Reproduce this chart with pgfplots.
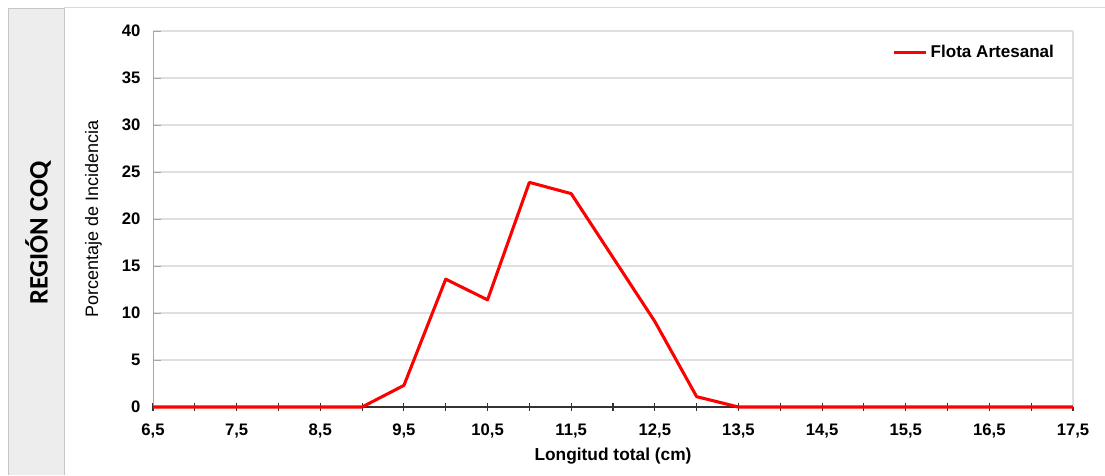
\documentclass[border=0pt]{standalone}
\usepackage{fontspec}
\setmainfont{Liberation Sans}
\newfontfamily\calib{Carlito}
\usepackage{pgfplots}
\pgfplotsset{compat=1.18}

\pgfplotstableread{
x y
6.5 0
7.0 0
7.5 0
8.0 0
8.5 0
9.0 0
9.5 2.3
10.0 13.6
10.5 11.4
11.0 23.9
11.5 22.7
12.0 15.9
12.5 9.1
13.0 1.1
13.5 0
14.0 0
14.5 0
15.0 0
15.5 0
16.0 0
16.5 0
17.0 0
17.5 0
}\flota

\begin{document}
\begin{tikzpicture}[x=0.75pt,y=0.75pt]
\useasboundingbox (0,0) rectangle (1105,475);
% left panel
\fill[gray!14] (8,0) rectangle (64,467);
\draw[gray!45] (8,0) -- (8,467) -- (64,467) -- (64,0);
\draw[gray!30] (64,468) -- (1105,468);
\node[rotate=90,font=\calib\bfseries\fontsize{20}{24}\selectfont] at (38,242) {REGIÓN COQ};
\begin{axis}[
    at={(114.75pt,51pt)}, anchor=south west,
    scale only axis, width=690pt, height=282pt,
    xmin=6.5, xmax=17.5, ymin=0, ymax=40,
    axis x line*=bottom, axis y line*=left,
    x axis line style={black!80, line width=0.8pt},
    y axis line style={gray!70},
    xtick={6.5,7.5,...,17.5},
    minor xtick={7,8,...,17},
    ytick={0,5,...,40},
    ymajorgrids, major grid style={gray!25, line width=0.8pt},
    xtick style={black!80, line width=0.8pt},
    minor x tick style={black!80, line width=0.8pt},
    major tick length=6pt, minor tick length=6pt,
    xtick align=center,
    ytick style={gray!70, line width=0.6pt},
    /pgf/number format/assume math mode=true,
    ticklabel style={font=\bfseries\fontsize{12.5}{14}\selectfont},
    xticklabel style={yshift=-6pt, /pgf/number format/fixed, /pgf/number format/fixed zerofill, /pgf/number format/precision=1, /pgf/number format/use comma},
    yticklabel style={xshift=-6pt},
    xlabel={\fontsize{13}{15}\selectfont\bfseries Longitud total (cm)},
    ylabel={\fontsize{13.5}{15}\selectfont Porcentaje de Incidencia},
    xlabel style={yshift=-1pt},
    ylabel style={yshift=8pt},
    clip=false,
    legend style={at={(0.804,0.944)}, anchor=west, draw=none, fill=none,
        inner sep=0pt, font=\bfseries\fontsize{12.8}{14}\selectfont,
        legend cell align=left},
    legend image code/.code={\draw[red, line width=2.3pt] (0pt,0pt) -- (24pt,0pt);},
]
\draw[gray!25, line width=0.8pt] (axis cs:17.5,0) -- (axis cs:17.5,40);
\addplot[red, line width=2.3pt, line join=round] table {\flota};
\addlegendentry{Flota Artesanal}
\end{axis}
\end{tikzpicture}
\end{document}
